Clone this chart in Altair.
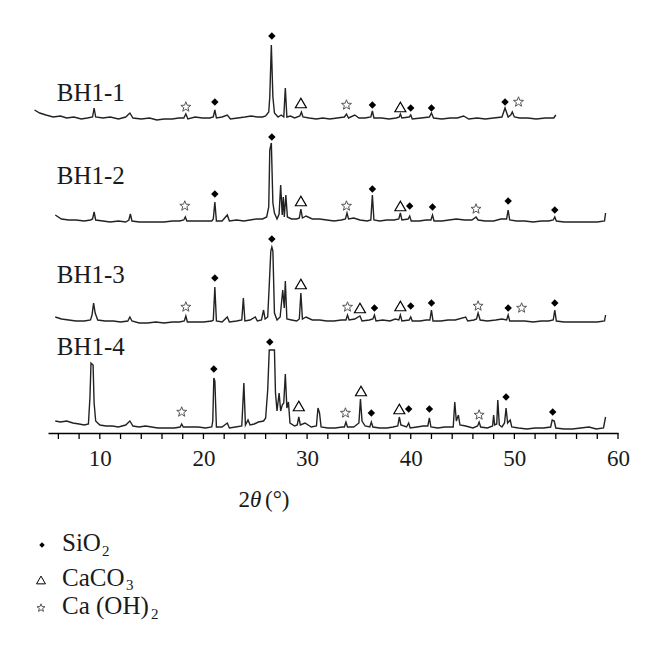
import altair as alt
import pandas as pd

# ---------------- data (2θ in degrees, stacked intensity in a.u.) ----------------
SERIES = ["BH1-1", "BH1-2", "BH1-3", "BH1-4"]

bh1_1 = [(3.7, 323), (4.2, 320), (4.8, 318), (5.5, 316), (6.2, 317), (6.8, 315), (7.5, 316),
         (8.2, 314), (8.8, 315), (9.3, 316), (9.45, 325), (9.6, 316), (10.3, 315), (11.0, 316),
         (11.8, 314), (12.5, 316), (12.9, 320), (13.2, 315), (14.0, 314), (14.8, 315), (15.5, 313),
         (16.2, 314), (17.0, 314), (17.6, 315), (18.1, 315), (18.3, 319), (18.5, 314), (19.2, 316),
         (19.9, 315), (20.6, 315), (20.95, 316), (21.1, 323), (21.25, 315), (21.8, 316), (22.3, 318),
         (22.6, 314), (23.3, 315), (24.0, 316), (24.6, 317), (25.2, 316), (25.7, 316), (26.0, 317),
         (26.3, 321), (26.4, 336), (26.55, 388), (26.7, 336), (26.85, 320), (27.2, 316), (27.5, 318),
         (27.75, 316), (27.9, 345), (28.05, 316), (28.4, 317), (28.8, 315), (29.3, 317), (29.45, 321),
         (29.6, 316), (30.2, 315), (30.9, 314), (31.5, 315), (32.2, 314), (32.9, 315), (33.6, 316),
         (33.8, 319), (34.0, 315), (34.6, 318), (35.0, 315), (35.6, 315), (36.15, 316), (36.3, 322),
         (36.45, 315), (37.2, 315), (37.9, 314), (38.6, 315), (38.9, 316), (39.0, 319), (39.15, 315),
         (39.85, 316), (40.0, 318), (40.15, 314), (41.0, 315), (41.8, 316), (42.0, 320), (42.2, 315),
         (43.0, 314), (43.8, 315), (44.5, 315), (45.1, 317), (45.6, 314), (46.4, 315), (47.2, 314),
         (48.0, 315), (48.8, 316), (49.1, 325), (49.4, 316), (49.65, 318), (49.8, 321), (50.0, 316),
         (50.5, 315), (51.3, 315), (52.1, 314), (53.0, 315), (53.8, 315), (54.0, 318)]

bh1_2 = [(5.7, 218), (6.3, 214), (7.0, 213), (7.7, 213), (8.5, 212), (9.1, 213), (9.3, 214),
         (9.45, 221), (9.6, 213), (10.3, 212), (11.0, 211), (11.8, 212), (12.5, 211), (12.8, 213),
         (12.95, 219), (13.1, 212), (13.8, 211), (14.6, 211), (15.4, 211), (16.2, 211), (17.0, 212),
         (17.7, 212), (18.1, 213), (18.25, 216), (18.4, 212), (19.2, 212), (20.0, 212), (20.8, 212),
         (20.95, 214), (21.1, 231), (21.25, 212), (21.8, 212), (22.3, 218), (22.5, 212), (23.2, 213),
         (23.9, 212), (24.5, 213), (25.1, 214), (25.7, 214), (26.1, 216), (26.3, 226), (26.4, 283),
         (26.55, 290), (26.7, 230), (26.85, 220), (27.1, 214), (27.3, 219), (27.45, 248), (27.6, 218),
         (27.7, 236), (27.8, 216), (27.95, 238), (28.1, 216), (28.5, 214), (29.0, 214), (29.25, 215),
         (29.4, 224), (29.55, 215), (29.9, 217), (30.5, 214), (31.2, 214), (31.9, 213), (32.6, 212),
         (33.3, 213), (33.7, 214), (33.85, 220), (34.0, 214), (34.5, 215), (35.1, 213), (35.8, 212),
         (36.15, 213), (36.3, 238), (36.45, 213), (37.0, 212), (37.7, 213), (38.4, 213), (38.85, 214),
         (39.0, 220), (39.15, 213), (39.75, 214), (39.9, 217), (40.05, 212), (40.8, 212), (41.5, 213),
         (41.95, 213), (42.1, 218), (42.25, 212), (43.0, 212), (43.7, 213), (44.4, 214), (45.2, 213),
         (45.9, 213), (46.3, 216), (46.5, 213), (47.2, 212), (48.0, 212), (48.7, 214), (49.25, 214),
         (49.4, 223), (49.55, 213), (50.2, 212), (51.0, 212), (51.8, 211), (52.6, 212), (53.3, 212),
         (53.75, 213), (53.9, 216), (54.05, 212), (54.8, 211), (55.6, 211), (56.4, 211), (57.2, 211),
         (58.0, 211), (58.7, 212), (58.8, 220)]

bh1_3 = [(5.7, 116), (6.3, 114), (7.0, 113), (7.7, 112), (8.5, 112), (9.1, 113), (9.25, 118),
         (9.4, 130), (9.55, 120), (9.8, 113), (10.5, 112), (11.3, 112), (12.0, 111), (12.7, 112),
         (12.9, 116), (13.1, 112), (13.8, 110), (14.6, 110), (15.4, 111), (16.2, 110), (17.0, 111),
         (17.7, 111), (18.15, 112), (18.3, 117), (18.45, 111), (19.2, 111), (20.0, 111), (20.8, 112),
         (20.95, 113), (21.1, 146), (21.25, 112), (21.8, 111), (22.3, 116), (22.5, 111), (23.2, 112),
         (23.7, 113), (23.85, 135), (24.0, 112), (24.5, 113), (25.0, 116), (25.2, 112), (25.6, 113),
         (25.8, 123), (25.95, 114), (26.2, 116), (26.35, 148), (26.5, 182), (26.6, 186), (26.7, 182),
         (26.85, 120), (27.1, 113), (27.4, 116), (27.65, 143), (27.8, 125), (27.9, 152), (28.05, 114),
         (28.5, 113), (29.0, 112), (29.25, 114), (29.4, 140), (29.55, 114), (29.9, 116), (30.5, 113),
         (31.2, 113), (31.9, 112), (32.6, 112), (33.3, 113), (33.75, 113), (33.9, 118), (34.05, 113),
         (34.6, 114), (35.1, 117), (35.3, 112), (36.0, 113), (36.35, 114), (36.5, 118), (36.65, 112),
         (37.3, 113), (38.0, 112), (38.5, 114), (38.85, 113), (39.0, 118), (39.15, 112), (39.85, 113),
         (40.0, 116), (40.15, 112), (40.9, 112), (41.5, 113), (41.85, 113), (42.0, 123), (42.15, 112),
         (42.9, 112), (43.6, 113), (44.3, 113), (45.3, 116), (45.5, 112), (46.1, 113), (46.35, 114),
         (46.5, 120), (46.7, 113), (47.4, 112), (48.2, 113), (48.8, 114), (49.25, 113), (49.4, 118),
         (49.55, 112), (50.2, 112), (51.0, 112), (51.8, 111), (52.6, 112), (53.3, 112), (53.75, 113),
         (53.9, 123), (54.05, 112), (54.8, 111), (55.6, 111), (56.4, 111), (57.2, 111), (58.0, 111),
         (58.7, 112), (58.8, 118)]

bh1_4 = [(5.7, 12), (6.2, 11), (6.8, 12), (7.4, 10), (8.0, 9), (8.5, 8), (8.9, 9), (9.05, 36),
         (9.15, 70), (9.35, 68), (9.45, 30), (9.6, 12), (10.0, 8), (10.6, 7), (11.2, 7), (11.8, 6),
         (12.5, 8), (12.9, 12), (13.2, 7), (13.8, 6), (14.4, 7), (15.0, 6), (15.6, 5), (16.4, 5),
         (17.2, 5), (17.75, 6), (17.9, 9), (18.05, 6), (18.8, 6), (19.5, 6), (20.2, 5), (20.8, 6),
         (20.9, 12), (21.0, 55), (21.1, 52), (21.25, 6), (21.8, 6), (22.3, 10), (22.5, 5), (23.1, 6),
         (23.7, 7), (23.9, 50), (24.05, 8), (24.3, 13), (24.5, 8), (24.9, 9), (25.3, 11), (25.8, 12),
         (26.0, 15), (26.2, 43), (26.35, 83), (26.85, 83), (26.95, 40), (27.1, 22), (27.3, 40),
         (27.45, 22), (27.6, 28), (27.75, 30), (27.9, 59), (28.05, 25), (28.2, 31), (28.35, 10),
         (28.8, 7), (29.05, 8), (29.2, 16), (29.35, 8), (29.8, 10), (30.4, 6), (30.9, 7), (31.05, 25),
         (31.2, 20), (31.35, 6), (32.0, 5), (32.7, 5), (33.4, 6), (33.6, 6), (33.75, 11), (33.9, 6),
         (34.5, 6), (35.0, 10), (35.15, 34), (35.3, 12), (35.6, 7), (36.05, 6), (36.2, 11), (36.35, 6),
         (37.0, 5), (37.7, 5), (38.3, 6), (38.75, 7), (38.9, 16), (39.05, 8), (39.6, 6), (39.8, 10),
         (39.95, 5), (40.6, 6), (41.2, 7), (41.65, 7), (41.8, 15), (41.95, 6), (42.6, 5), (43.3, 6),
         (44.1, 6), (44.25, 31), (44.4, 12), (44.6, 18), (44.75, 8), (45.3, 7), (46.0, 5), (46.45, 7),
         (46.6, 11), (46.75, 6), (47.4, 5), (47.9, 7), (48.0, 18), (48.1, 8), (48.3, 9), (48.4, 33),
         (48.55, 8), (48.8, 6), (49.05, 10), (49.2, 25), (49.35, 10), (49.6, 13), (49.75, 6),
         (50.4, 5), (51.2, 4), (52.0, 5), (52.8, 5), (53.5, 6), (53.65, 13), (53.85, 12), (54.0, 5),
         (54.8, 4), (55.6, 4), (56.4, 5), (57.2, 6), (57.9, 4), (58.6, 5), (58.8, 16)]

# phase markers (2θ, level)
sio2_marks = [(21.1, 331), (26.6, 397), (36.3, 328), (40.0, 325), (42.0, 325), (49.1, 331),
              (21.1, 239), (26.6, 296), (36.3, 244), (39.9, 227), (42.1, 226), (49.4, 232), (53.9, 223),
              (21.1, 155), (26.6, 194), (36.5, 125), (40.0, 127), (42.0, 130), (49.4, 125), (53.9, 130),
              (21.0, 64), (26.4, 91), (36.2, 20), (39.8, 24), (41.8, 24), (49.2, 36), (53.7, 21)]
caco3_marks = [(29.4, 330), (39.0, 326),
               (29.4, 232), (39.0, 227),
               (29.4, 149), (35.1, 125), (39.0, 127),
               (29.2, 27), (35.2, 42), (38.9, 24)]
caoh2_marks = [(18.3, 326), (33.8, 328), (50.4, 331),
               (18.2, 227), (33.8, 227), (46.3, 224),
               (18.3, 126), (33.9, 126), (46.5, 127), (50.7, 125),
               (17.9, 21), (33.7, 20), (46.6, 18)]

label_theta = [5.85, 5.85, 5.85, 5.85]
label_level = [340, 257, 158, 86]

tick_values = list(range(6, 61, 2))
label_values = [10, 20, 30, 40, 50, 60]
legend_names = ["SiO", "CaCO", "Ca (OH)"]
legend_subs = ["2", "3", "2"]

# ---------------- build tables ----------------
series_pts = [bh1_1, bh1_2, bh1_3, bh1_4]
rows = []
for name, pts in zip(SERIES, series_pts):
    for t, v in pts:
        rows.append({"theta": t, "intensity": v, "series": name})
traces = pd.DataFrame(rows)


def marks_df(pts):
    return pd.DataFrame({"theta": [p[0] for p in pts], "intensity": [p[1] for p in pts]})


labels_df = pd.DataFrame({"theta": label_theta, "intensity": label_level, "name": SERIES})
ticks_df = pd.DataFrame({"theta": tick_values})

FONT = "Liberation Serif"
INK = "#1a1a1a"

x_enc = alt.X(
    "theta:Q",
    scale=alt.Scale(domain=[5, 60], nice=False, zero=False),
    axis=alt.Axis(
        values=label_values,
        grid=False, title=None, ticks=False,
        domainColor="black", domainWidth=1.5,
        labelFont=FONT, labelFontSize=23, labelColor=INK, labelPadding=14,
        labelFlush=False, labelOverlap=False,
    ),
)
y_enc = alt.Y("intensity:Q", scale=alt.Scale(domain=[0, 420], nice=False, zero=False), axis=None)

lines = alt.Chart(traces).mark_line(color="#222222", strokeWidth=1.4, strokeJoin="miter").encode(
    x=x_enc, y=y_enc, detail="series:N"
)

minor_ticks = alt.Chart(ticks_df).mark_rule(color="black", strokeWidth=1.3).encode(
    x="theta:Q", y=alt.value(420), y2=alt.value(426)
)

STAR = ("M0,-1 L0.247,-0.340 L0.951,-0.309 L0.399,0.130 L0.588,0.809 L0,0.42 "
        "L-0.588,0.809 L-0.399,0.130 L-0.951,-0.309 L-0.247,-0.340 Z")

diamonds = alt.Chart(marks_df(sio2_marks)).mark_point(
    shape="diamond", filled=True, color="black", size=55, opacity=1
).encode(x="theta:Q", y="intensity:Q")
triangles = alt.Chart(marks_df(caco3_marks)).mark_point(
    shape="triangle-up", filled=False, stroke="black", strokeWidth=1.2, size=120, opacity=1
).encode(x="theta:Q", y="intensity:Q")
stars = alt.Chart(marks_df(caoh2_marks)).mark_point(
    shape=STAR, filled=False, stroke="#555555", strokeWidth=1.0, size=110, opacity=1
).encode(x="theta:Q", y="intensity:Q")

series_text = alt.Chart(labels_df).mark_text(
    align="left", baseline="middle", font=FONT, fontSize=25, color=INK
).encode(x="theta:Q", y="intensity:Q", text="name:N")


def txt(s, x, y, size, align="left", style="normal", baseline="alphabetic"):
    return alt.Chart(pd.DataFrame({"t": [s]})).mark_text(
        align=align, baseline=baseline, font=FONT, fontSize=size, fontStyle=style, color=INK
    ).encode(x=alt.value(x), y=alt.value(y), text="t:N")


def sym(shape, x, y, size, filled, stroke):
    kw = dict(shape=shape, size=size, opacity=1)
    if filled:
        kw.update(filled=True, color=stroke)
    else:
        kw.update(filled=False, stroke=stroke, strokeWidth=1.0)
    return alt.Chart(pd.DataFrame({"k": [0]})).mark_point(**kw).encode(x=alt.value(x), y=alt.value(y))


# axis title 2θ (°) with italic theta
title_parts = [
    txt("2", 202, 494, 23, align="right"),
    txt("θ", 202, 494, 23, style="italic"),
    txt("(°)", 217, 494, 23),
]

legend_layers = [
    sym("diamond", -6, 532, 30, True, "black"),
    sym("triangle-up", -7, 567, 80, False, "black"),
    sym(STAR, -7, 595, 70, False, "#555555"),
    txt(legend_names[0], 14, 538, 25),
    txt(legend_subs[0], 54, 543, 15),
    txt(legend_names[1], 14, 573, 25),
    txt(legend_subs[1], 78, 577, 15),
    txt(legend_names[2], 14, 601, 25),
    txt(legend_subs[2], 103, 606, 15),
]

chart = alt.layer(
    lines, minor_ticks, diamonds, triangles, stars, series_text, *title_parts, *legend_layers
).properties(
    width=570, height=420,
    padding={"left": 23, "top": 5, "right": 5, "bottom": 5},
).configure_view(stroke=None)

chart.save("out.html", embed_options={"renderer": "svg", "actions": False})
